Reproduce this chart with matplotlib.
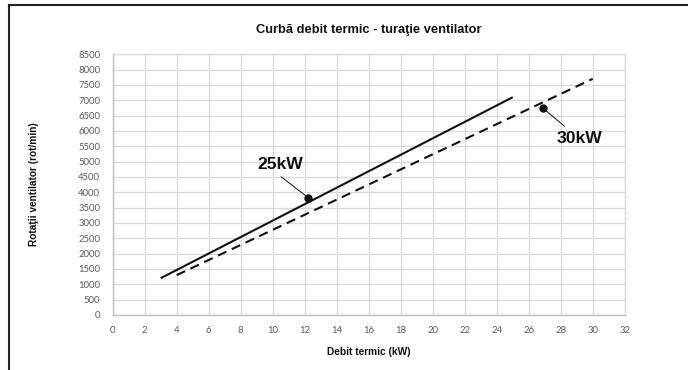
import matplotlib
matplotlib.use("Agg")
import matplotlib.pyplot as plt
from matplotlib.lines import Line2D

# Fan speed vs. heat output curves
x_25kw = [3, 25]
y_25kw = [1200, 7100]
x_30kw = [4, 30]
y_30kw = [1300, 7700]

# Labelled reference points
label_25 = "25kW"
pt_25 = (12.2, 3830)
label_30 = "30kW"
pt_30 = (26.9, 6740)

x_ticks = list(range(0, 33, 2))
y_ticks = list(range(0, 8501, 500))

title = "Curbă debit termic - turaţie ventilator"
x_label = "Debit termic (kW)"
y_label = "Rotaţii ventilator (rot/min)"

W, H, DPI = 688, 370, 100
fig = plt.figure(figsize=(W / DPI, H / DPI), dpi=DPI)
fig.patch.set_facecolor("white")

# axes placement in pixels
left, right, top, bottom = 112.7, 624.7, 54.3, 315.0
ax = fig.add_axes([left / W, 1 - bottom / H, (right - left) / W, (bottom - top) / H])

bold_font = ["Liberation Sans", "DejaVu Sans"]
tick_font = ["Lato", "DejaVu Sans"]

ax.plot(x_25kw, y_25kw, color="#111111", lw=1.5, solid_capstyle="butt", zorder=3)
ax.plot(x_30kw, y_30kw, color="#111111", lw=1.5, linestyle=(0, (4.5, 2.8)),
        dash_capstyle="butt", zorder=3)

ax.set_xlim(0, 32)
ax.set_ylim(0, 8500)
ax.set_xticks(x_ticks)
ax.set_yticks(y_ticks)
ax.grid(True, color="#d9d9d9", lw=0.9)
ax.set_axisbelow(True)
for s in ["top", "right"]:
    ax.spines[s].set_color("#d9d9d9")
    ax.spines[s].set_linewidth(0.9)
for s in ["left", "bottom"]:
    ax.spines[s].set_color("#bfbfbf")
    ax.spines[s].set_linewidth(1.0)
ax.tick_params(length=0, colors="#595959", labelsize=6.8, pad=9)
ax.tick_params(axis="x", pad=8)
for lab in ax.get_xticklabels() + ax.get_yticklabels():
    lab.set_family(tick_font)

# reference points with leader lines
ax.plot(*pt_25, "o", color="#111111", ms=5, zorder=4)
ax.plot(*pt_30, "o", color="#111111", ms=5, zorder=4)
ax.annotate(label_25, xy=pt_25, xytext=(10.45, 4900), ha="center", va="center",
            fontsize=12.6, fontweight="bold", family=bold_font, color="#111111",
            arrowprops=dict(arrowstyle="-", color="#111111", lw=0.7,
                            relpos=(0.4, 0.0), shrinkA=2, shrinkB=2))
ax.annotate(label_30, xy=pt_30, xytext=(29.15, 5760), ha="center", va="center",
            fontsize=12.6, fontweight="bold", family=bold_font, color="#111111",
            arrowprops=dict(arrowstyle="-", color="#111111", lw=0.7,
                            relpos=(0.3, 1.0), shrinkA=2, shrinkB=2))

fig.text(368.5 / W, 1 - 30 / H, title, ha="center", va="center",
         fontsize=9.3, fontweight="bold", family=bold_font, color="#111111")
fig.text(368.5 / W, 1 - 352 / H, x_label, ha="center", va="center",
         fontsize=7.3, fontweight="bold", family=bold_font, color="#111111")
fig.text(34 / W, 1 - 184.5 / H, y_label, ha="center", va="center", rotation=90,
         fontsize=7.3, fontweight="bold", family=bold_font, color="#111111")

# chart frame (left and top edges)
fig.add_artist(Line2D([8.5 / W, 8.5 / W], [0, 1 - 5 / H], transform=fig.transFigure,
                      color="#222222", lw=1.5))
fig.add_artist(Line2D([8.5 / W, 1], [1 - 5 / H, 1 - 5 / H], transform=fig.transFigure,
                      color="#222222", lw=1.5))

fig.savefig("out.png", dpi=DPI)
